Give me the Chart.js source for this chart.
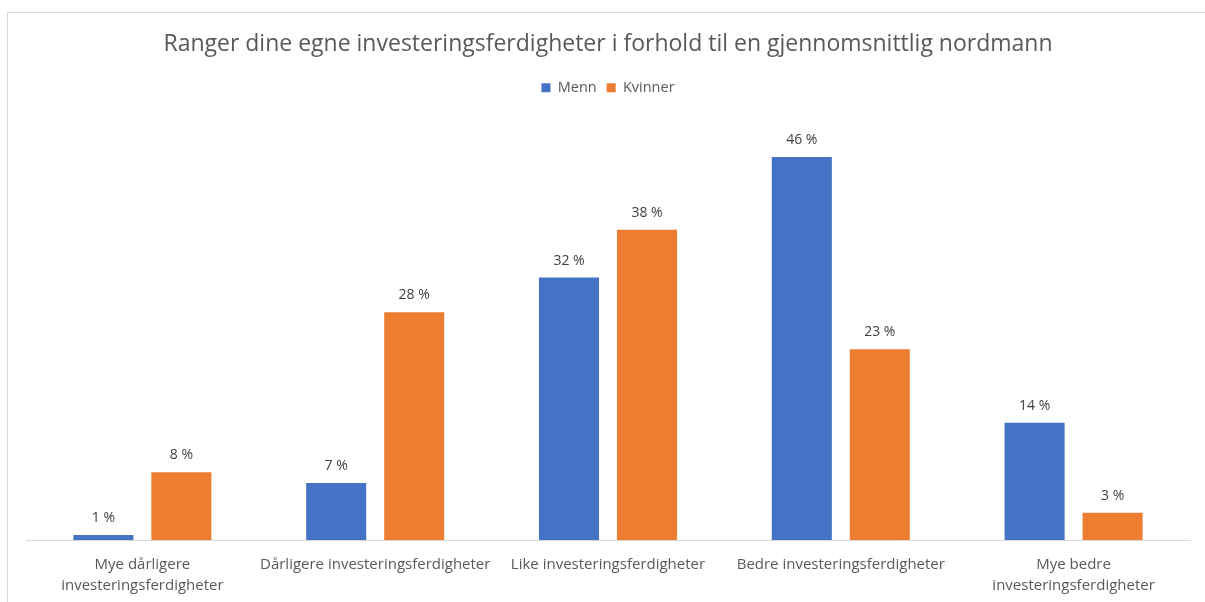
<!DOCTYPE html>
<html>
<head>
<meta charset="utf-8">
<script src="https://cdn.jsdelivr.net/npm/chart.js@4.4.1/dist/chart.umd.min.js"></script>
<style>
  html, body { margin: 0; padding: 0; background: #fff; overflow: hidden; }
  #frame { position: absolute; left: 7px; top: 12px; width: 1210px; height: 600px; border: 1px solid #d9d9d9; }
  #wrap { position: absolute; left: 0; top: 0; width: 1205px; height: 602px; }
</style>
</head>
<body>
<div id="frame"></div>
<div id="wrap"><canvas id="chart"></canvas></div>
<script>
// --- Data ---
const categories = [
    ['Mye dårligere', 'investeringsferdigheter'],
    'Dårligere investeringsferdigheter',
    'Like investeringsferdigheter',
    'Bedre investeringsferdigheter',
    ['Mye bedre', 'investeringsferdigheter']
];
const menn = [0.6, 6.9, 31.8, 46.4, 14.2];
const kvinner = [8.2, 27.6, 37.6, 23.1, 3.3];

const FONT = '"Open Sans", Lato, sans-serif';

// --- Value labels above bars ---
const barLabels = {
    id: 'barLabels',
    afterDatasetsDraw(chart) {
        const ctx = chart.ctx;
        ctx.save();
        ctx.font = '14px ' + FONT;
        ctx.fillStyle = '#404040';
        ctx.textAlign = 'center';
        ctx.textBaseline = 'bottom';
        chart.data.datasets.forEach(function (ds, i) {
            chart.getDatasetMeta(i).data.forEach(function (bar, j) {
                ctx.fillText(Math.round(ds.data[j]) + ' %', bar.x, bar.y - 10);
            });
        });
        ctx.restore();
    }
};

new Chart(document.getElementById('chart'), {
    type: 'bar',
    data: {
        labels: categories,
        datasets: [
            { label: 'Menn', data: menn, backgroundColor: '#4472C4' },
            { label: 'Kvinner', data: kvinner, backgroundColor: '#ED7D31' }
        ]
    },
    options: {
        responsive: true,
        maintainAspectRatio: false,
        animation: false,
        categoryPercentage: 0.67,
        barPercentage: 0.77,
        layout: { padding: { left: 26, right: 15, top: 0, bottom: 0 } },
        plugins: {
            title: {
                display: true,
                text: 'Ranger dine egne investeringsferdigheter i forhold til en gjennomsnittlig nordmann',
                color: '#595959',
                font: { family: FONT, size: 23, weight: 'normal', lineHeight: 1.2 },
                padding: { top: 31, bottom: 12 }
            },
            legend: {
                display: true,
                labels: {
                    color: '#595959',
                    font: { family: FONT, size: 14.5 },
                    boxWidth: 9,
                    boxHeight: 9,
                    padding: 10
                }
            },
            tooltip: { enabled: false }
        },
        scales: {
            x: {
                grid: { display: false },
                border: { display: true, color: '#d9d9d9', width: 1 },
                ticks: {
                    color: '#595959',
                    font: { family: FONT, size: 15, lineHeight: 1.4 },
                    maxRotation: 0,
                    autoSkip: false,
                    padding: 6
                }
            },
            y: {
                display: false,
                min: 0,
                max: 52.7
            }
        }
    },
    plugins: [barLabels]
});
</script>
</body>
</html>
